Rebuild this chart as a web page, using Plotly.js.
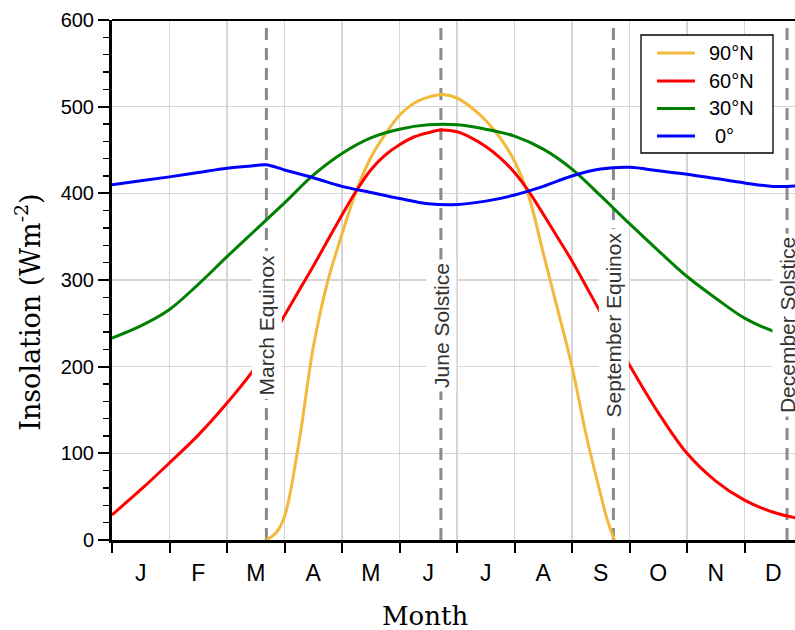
<!DOCTYPE html>
<html>
<head>
<meta charset="utf-8">
<script src="https://cdn.plot.ly/plotly-3.0.1.min.js"></script>
<style>
html,body{margin:0;padding:0;overflow:hidden;background:#fff;width:795px;height:630px;}
#chart{width:810px;height:630px;}
</style>
</head>
<body>
<div id="chart"></div>
<script>
// Month positions (0 = 1 Jan, 12 = 31 Dec) and insolation values (W m^-2)
const monthLabels = ['J','F','M','A','M','J','J','A','S','O','N','D'];

const lat90_x = [2.68, 2.85, 3.0, 3.25, 3.5, 3.75, 4.0, 4.25, 4.5, 4.75, 5.0, 5.25, 5.5, 5.75, 6.0, 6.25, 6.5, 6.75, 7.0, 7.25, 7.5, 7.75, 8.0, 8.25, 8.5, 8.62, 8.74];
const lat90_y = [0, 8, 27, 112, 222, 298, 353, 403, 441, 468, 490, 504, 511, 514, 510, 499, 484, 464, 437, 396, 331, 266, 200, 120, 52, 22, 0];

const lat60_x = [0, 0.5, 1, 1.5, 2, 2.5, 3, 3.5, 4, 4.25, 4.5, 4.75, 5, 5.25, 5.5, 5.72, 6, 6.25, 6.5, 6.75, 7, 7.25, 7.5, 7.75, 8, 8.5, 9, 9.5, 10, 10.5, 11, 11.5, 12];
const lat60_y = [29, 58, 89, 121, 158, 200, 259, 316, 375, 403, 427, 444, 456, 465, 470, 473, 471, 464, 454, 441, 424, 402, 376, 349, 322, 262, 202, 147, 100, 68, 46, 32, 24];

const lat30_x = [0, 0.5, 1, 1.5, 2, 2.5, 3, 3.5, 4, 4.5, 5, 5.5, 6, 6.5, 7, 7.5, 8, 8.5, 9, 9.5, 10, 10.5, 11, 11.5, 12];
const lat30_y = [233, 247, 266, 295, 327, 358, 389, 421, 446, 464, 474, 479, 479, 474, 466, 451, 428, 397, 365, 334, 304, 279, 256, 241, 232];

const lat0_x = [0, 0.5, 1, 1.5, 2, 2.5, 2.68, 3, 3.5, 4, 4.5, 5, 5.5, 6, 6.5, 7, 7.5, 8, 8.5, 9, 9.5, 10, 10.5, 11, 11.5, 12];
const lat0_y = [410, 414.5, 419, 424, 429, 432, 433, 427, 418, 408, 401, 394, 388, 387, 391, 398, 408, 420, 428, 430, 426, 422, 417, 412, 408, 409];

const seriesNames = ['90°N', '60°N', '30°N', '0°'];
const seriesColors = ['#f2b93a', '#ff0000', '#008000', '#0000ff'];

const eventMonths = [2.685, 5.72, 8.72, 11.74];
const eventLabels = ['March Equinox', 'June Solstice', 'September Equinox', 'December Solstice'];
const eventLabelY = 248;
const yMax = 600;

const traces = [];
eventMonths.forEach(m => {
  traces.push({x:[m,m], y:[0,yMax], type:'scatter', mode:'lines', showlegend:false, hoverinfo:'skip',
    line:{color:'#8a8a8a', width:3, dash:'12px,8px'}});
});
const xs = [lat90_x, lat60_x, lat30_x, lat0_x];
const ys = [lat90_y, lat60_y, lat30_y, lat0_y];
xs.forEach((x, i) => {
  traces.push({x:x, y:ys[i], type:'scatter', mode:'lines', name:seriesNames[i], showlegend:false,
    line:{color:seriesColors[i], width:3, shape:'spline', smoothing:1}});
});

const sans = 'Liberation Sans, Arial, Helvetica, sans-serif';
const serif = 'DejaVu Serif, serif';

// pixel helpers for the legend box (plot area: left 112, width 690, bottom 540, height 520)
const px = v => (v - 112) / 690;
const py = v => (540 - v) / 520;

const annotations = eventMonths.map((m, i) => ({
  x:m, y:eventLabelY, xref:'x', yref:'y', text:eventLabels[i], textangle:-90,
  showarrow:false, bgcolor:'#ffffff', borderpad:3,
  font:{family:sans, size:21, color:'#333333'}
}));
annotations.push({x:-0.1217, y:0.437, xref:'paper', yref:'paper', text:'Insolation (Wm<sup>-2</sup>)',
  textangle:-90, showarrow:false, xanchor:'center', yanchor:'middle', font:{family:serif, size:27, color:'#000'}});
annotations.push({x:0.4536, y:-0.147, xref:'paper', yref:'paper', text:'Month',
  showarrow:false, xanchor:'center', yanchor:'middle', font:{family:serif, size:26, color:'#000'}});

const shapes = [{type:'line', xref:'paper', yref:'paper', x0:0, x1:1, y0:1, y1:1, line:{color:'#000', width:2}}];
// legend
shapes.push({type:'rect', xref:'paper', yref:'paper', x0:px(641), x1:px(773), y0:py(153), y1:py(35),
  fillcolor:'#ffffff', line:{color:'#000', width:1.3}, layer:'above'});
const rowY = [53, 81, 108.5, 136];
seriesNames.forEach((n, i) => {
  shapes.push({type:'line', xref:'paper', yref:'paper', x0:px(657), x1:px(695), y0:py(rowY[i]), y1:py(rowY[i]),
    line:{color:seriesColors[i], width:3}, layer:'above'});
  annotations.push({x:px(i === 3 ? 713 : 707), y:py(rowY[i]), xref:'paper', yref:'paper', text:n,
    showarrow:false, xanchor:'left', yanchor:'middle', font:{family:sans, size:20, color:'#000'}});
});

const layout = {
  width:810, height:630,
  margin:{l:112, r:8, t:20, b:90},
  paper_bgcolor:'#fff', plot_bgcolor:'#fff',
  showlegend:false,
  xaxis:{range:[0,12], tickmode:'array', tickvals:monthLabels.map((_, i) => i + 0.5), ticktext:monthLabels,
    ticks:'outside', ticklen:10, tickcolor:'rgba(0,0,0,0)', showgrid:false, zeroline:false,
    showline:true, linecolor:'#000', linewidth:3,
    tickfont:{family:sans, size:23, color:'#000'},
    minor:{tickmode:'array', tickvals:[0,1,2,3,4,5,6,7,8,9,10,11,12], ticks:'outside', ticklen:10, tickwidth:2, tickcolor:'#000',
      showgrid:true, gridcolor:'#d6d6d6', gridwidth:1.5}},
  yaxis:{range:[0,yMax], tickmode:'array', tickvals:[0,100,200,300,400,500,600],
    ticks:'outside', ticklen:11, tickwidth:2, tickcolor:'#000',
    showgrid:true, gridcolor:'#d6d6d6', gridwidth:1.5, zeroline:false,
    showline:true, linecolor:'#000', linewidth:3,
    tickfont:{family:sans, size:20, color:'#000'},
    minor:{dtick:20, ticks:'outside', ticklen:6, tickwidth:1.5, tickcolor:'#000', showgrid:false}},
  shapes:shapes,
  annotations:annotations
};

Plotly.newPlot('chart', traces, layout, {displayModeBar:false, staticPlot:true});
</script>
</body>
</html>
